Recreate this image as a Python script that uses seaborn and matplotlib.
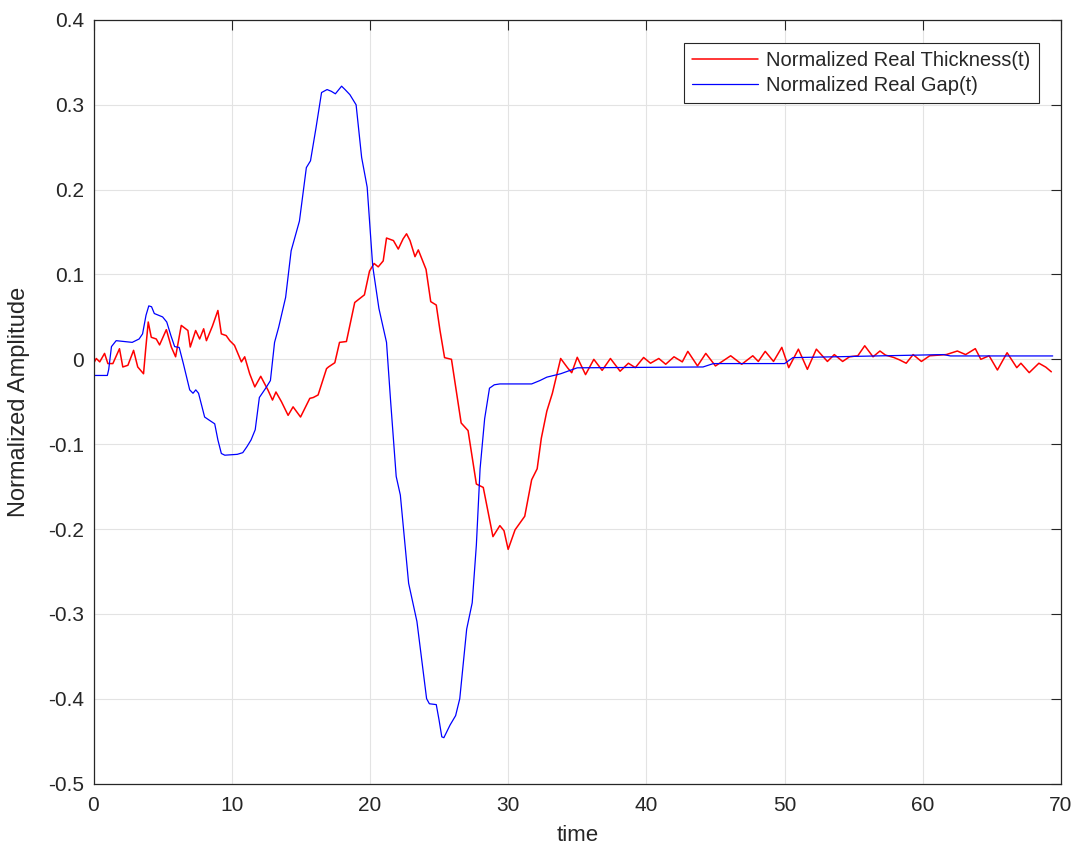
import matplotlib
matplotlib.use("Agg")
import matplotlib.pyplot as plt
import matplotlib.ticker as mticker
import pandas as pd
import seaborn as sns

# Normalized Real Gap(t)
gap_time = [0, 1.0, 1.1, 1.3, 1.64, 2.8, 3.3, 3.55, 3.8, 4.0, 4.2, 4.4, 5.0, 5.3,
            5.6, 5.87, 6.2, 6.5, 6.96, 7.2, 7.4, 7.6, 8.04, 8.4, 8.77, 9.0, 9.25,
            9.5, 10.4, 10.8, 11.1, 11.4, 11.7, 12.0, 12.5, 12.8, 13.1, 13.4, 13.9,
            14.3, 14.9, 15.4, 15.7, 16.1, 16.5, 16.9, 17.2, 17.5, 17.7, 17.95, 18.2,
            18.55, 19.0, 19.4, 19.8, 20.2, 20.65, 21.2, 21.5, 21.9, 22.2, 22.8, 23.4,
            24.1, 24.3, 24.8, 25.0, 25.2, 25.35, 25.8, 26.2, 26.5, 27.0, 27.4, 27.7,
            27.97, 28.3, 28.65, 29.0, 29.4, 31.7, 32.3, 32.8, 33.8, 35.0, 44.1,
            44.85, 50.0, 50.6, 61.5, 62.0, 69.4]
gap_value = [-0.019, -0.019, -0.012, 0.015, 0.022, 0.020, 0.024, 0.030, 0.052, 0.063,
             0.062, 0.054, 0.050, 0.044, 0.028, 0.015, 0.014, -0.005, -0.036, -0.040,
             -0.036, -0.040, -0.068, -0.072, -0.076, -0.095, -0.111, -0.113, -0.112,
             -0.110, -0.103, -0.095, -0.083, -0.045, -0.033, -0.025, 0.020, 0.038,
             0.073, 0.128, 0.163, 0.226, 0.234, 0.273, 0.3145, 0.318, 0.316, 0.313,
             0.317, 0.322, 0.318, 0.312, 0.300, 0.238, 0.203, 0.110, 0.060, 0.020,
             -0.050, -0.138, -0.160, -0.264, -0.309, -0.400, -0.406, -0.407, -0.425,
             -0.445, -0.446, -0.431, -0.420, -0.400, -0.318, -0.287, -0.219, -0.129,
             -0.070, -0.034, -0.030, -0.029, -0.029, -0.025, -0.021, -0.017, -0.010,
             -0.009, -0.005, -0.005, 0.002, 0.0056, 0.004, 0.004]

# Normalized Real Thickness(t)
thick_time = [0, 0.2, 0.45, 0.8, 1.04, 1.4, 1.88, 2.12, 2.49, 2.9, 3.2, 3.62, 3.77,
              3.96, 4.18, 4.54, 4.78, 5.27, 5.63, 5.94, 6.35, 6.83, 7.0, 7.39, 7.68,
              7.97, 8.17, 8.6, 9.0, 9.25, 9.6, 9.86, 10.2, 10.7, 10.94, 11.3, 11.67,
              12.1, 12.63, 12.95, 13.2, 13.6, 14.08, 14.44, 14.98, 15.65, 15.9, 16.25,
              16.86, 17.0, 17.46, 17.8, 18.3, 18.9, 19.6, 19.97, 20.3, 20.6, 20.96,
              21.2, 21.7, 22.05, 22.4, 22.65, 22.9, 23.26, 23.5, 24.06, 24.4, 24.8,
              25.07, 25.4, 25.9, 26.6, 27.1, 27.7, 28.2, 28.9, 29.4, 29.7, 30.0, 30.5,
              31.2, 31.7, 32.1, 32.4, 32.8, 33.2, 33.8, 34.3, 34.6, 35.0, 35.6, 36.2,
              36.8, 37.4, 38.1, 38.7, 39.2, 39.8, 40.3, 40.9, 41.4, 42.0, 42.6, 43.0,
              43.7, 44.3, 45.0, 46.1, 46.9, 47.7, 48.1, 48.6, 49.2, 49.8, 50.3, 51.0,
              51.65, 52.3, 53.1, 53.6, 54.2, 54.7, 55.3, 55.8, 56.4, 56.9, 57.3, 57.9,
              58.3, 58.8, 59.3, 59.9, 60.5, 61.7, 62.5, 63.1, 63.8, 64.2, 64.8, 65.4,
              66.1, 66.8, 67.1, 67.7, 68.4, 68.9, 69.3]
thick_value = [-0.005, 0.001, -0.003, 0.007, -0.005, -0.005, 0.0125, -0.009, -0.007,
               0.0106, -0.009, -0.017, 0.011, 0.044, 0.026, 0.024, 0.017, 0.035, 0.0145,
               0.003, 0.040, 0.034, 0.0145, 0.034, 0.024, 0.036, 0.022, 0.039, 0.0576,
               0.030, 0.028, 0.022, 0.0165, -0.003, 0.003, -0.017, -0.0325, -0.020,
               -0.0365, -0.048, -0.0385, -0.050, -0.066, -0.056, -0.068, -0.046, -0.045,
               -0.042, -0.011, -0.009, -0.004, 0.020, 0.021, 0.067, 0.076, 0.104, 0.113,
               0.109, 0.116, 0.143, 0.140, 0.130, 0.142, 0.148, 0.140, 0.121, 0.129,
               0.106, 0.068, 0.064, 0.034, 0.002, 0.000, -0.075, -0.084, -0.147, -0.151,
               -0.209, -0.196, -0.202, -0.224, -0.201, -0.185, -0.142, -0.129, -0.093,
               -0.061, -0.040, 0.001, -0.010, -0.0158, 0.0024, -0.018, 0.0, -0.013,
               0.001, -0.014, -0.0046, -0.0098, 0.0022, -0.0046, 0.001, -0.0058, 0.003,
               -0.003, 0.0094, -0.0078, 0.007, -0.0078, 0.0042, -0.0058, 0.0042, -0.0025,
               0.0094, -0.0025, 0.0141, -0.0098, 0.012, -0.0118, 0.012, -0.0025, 0.0056,
               -0.0025, 0.003, 0.0042, 0.016, 0.003, 0.0098, 0.005, 0.0022, -0.0005,
               -0.0046, 0.0056, -0.0025, 0.0042, 0.0056, 0.0098, 0.0056, 0.0126, 0.0,
               0.0042, -0.0126, 0.0078, -0.0098, -0.0046, -0.0157, -0.0046, -0.0092,
               -0.0147]

y_ticks = [-0.5, -0.4, -0.3, -0.2, -0.1, 0, 0.1, 0.2, 0.3, 0.4]
x_ticks = [0, 10, 20, 30, 40, 50, 60, 70]

df_thick = pd.DataFrame({"time": thick_time, "value": thick_value})
df_gap = pd.DataFrame({"time": gap_time, "value": gap_value})

sns.set_theme(style="white")
plt.rcParams["font.family"] = ["Liberation Sans", "DejaVu Sans"]
plt.rcParams["axes.unicode_minus"] = False

W, H = 1076, 847
fig = plt.figure(figsize=(W / 100, H / 100), dpi=100)
left, right, top, bottom = 93.5, 1061, 20, 783.5
ax = fig.add_axes([left / W, 1 - bottom / H, (right - left) / W, (bottom - top) / H])

sns.lineplot(data=df_thick, x="time", y="value", ax=ax, color="#ff0000",
             linewidth=1.1, estimator=None, sort=False,
             label="Normalized Real Thickness(t)")
sns.lineplot(data=df_gap, x="time", y="value", ax=ax, color="#0000ff",
             linewidth=0.9, estimator=None, sort=False,
             label="Normalized Real Gap(t)")

ax.set_xlim(0, 70)
ax.set_ylim(-0.5, 0.4)
ax.set_xticks(x_ticks)
ax.set_yticks(y_ticks)
ax.yaxis.set_major_formatter(mticker.FuncFormatter(lambda v, p: f"{round(v, 2):g}"))
ax.grid(True, color="#e3e3e3", linewidth=0.8)
ax.set_axisbelow(True)
for s in ax.spines.values():
    s.set_color("#262626")
    s.set_linewidth(0.9)
ax.tick_params(direction="in", length=7, width=0.8, top=True, right=True,
               labelsize=15, colors="#262626")
ax.tick_params(axis="x", pad=9)
ax.tick_params(axis="y", pad=7)

ax.set_xlabel("time", fontsize=16, color="#262626")
ax.set_ylabel("Normalized Amplitude", fontsize=17, color="#262626")
ax.xaxis.set_label_coords(0.5, -0.054)
ax.yaxis.set_label_coords(-0.066, 0.5)

leg = ax.legend(loc="upper right", bbox_to_anchor=(0.977, 0.970), borderaxespad=0,
                fontsize=14.5, handlelength=3.3, handletextpad=0.4, labelspacing=0.3,
                borderpad=0.4, fancybox=False, framealpha=1)
leg.get_frame().set_edgecolor("#262626")
leg.get_frame().set_linewidth(0.8)

fig.savefig("out.png", dpi=100)
